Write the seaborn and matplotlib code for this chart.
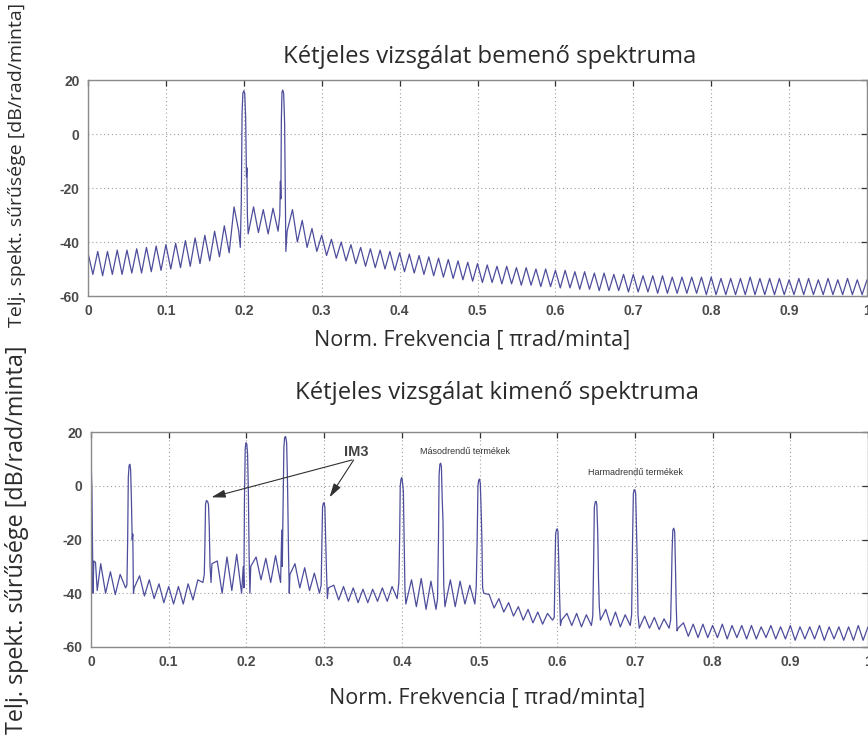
import numpy as np
import pandas as pd
import matplotlib
matplotlib.use("Agg")
import matplotlib.pyplot as plt
import seaborn as sns

# ---------------------------------------------------------------------------
# Spectrum data (dB/rad/sample).  The floor is described by its sidelobe
# maxima (at k*LOBE) and nulls (at (k+1/2)*LOBE); NaN marks grid points that
# are covered by a spectral line.  Spectral lines are given as explicit
# vertex lists.
# ---------------------------------------------------------------------------
LOBE = 0.0125

FREQ_TICKS = [0, 0.1, 0.2, 0.3, 0.4, 0.5, 0.6, 0.7, 0.8, 0.9, 1.0]
FREQ_TICK_LABELS = ["0", "0.1", "0.2", "0.3", "0.4", "0.5", "0.6", "0.7", "0.8", "0.9", "1"]
DB_TICKS = [-60, -40, -20, 0, 20]

# input spectrum: two tones at 0.2 and 0.25
IN_PEAK = [
    -44, -43.5, -43.5, -43, -43, -42.5, -42, -41.5, -41, -40.5,
    -39.5, -38.5, -37.5, -36, -34, -27, np.nan, -27, -28, -27.5,
    np.nan, -28, -32, -35, -37.5, -39, -40, -41, -42, -42.5,
    -43, -43.5, -44, -44.5, -45, -45.5, -46, -46.5, -47, -47.5,
    -48, -48.5, -49, -49, -49.5, -49.5, -50, -50, -50.5, -50.5,
    -51, -51, -51.5, -51.5, -52, -52, -52, -52.5, -52.5, -52.5,
    -53, -53, -53, -53, -53, -53.5, -53.5, -53.5, -53, -53.5,
    -53.5, -53.5, -54, -53.5, -53.5, -54, -53.5, -54, -53.5, -54, -54,
]
IN_NULL = [
    -52, -52.5, -52, -52, -51.5, -51.5, -51, -50.5, -50, -49.5,
    -49, -48, -47, -45.5, -44, np.nan, np.nan, -36.5, -37, np.nan,
    np.nan, -40, -42, -43.5, -45, -46, -47, -48, -49, -49.5,
    -50, -50.5, -51, -51.5, -52, -52.5, -53, -53.5, -54, -54.5,
    -55, -55, -55.5, -55.5, -56, -56, -56.5, -56.5, -57, -57,
    -57.5, -57.5, -58, -58, -58, -58.5, -58.5, -58.5, -59, -59,
    -59, -59, -59, -59.5, -59.5, -59.5, -59.5, -59.5, -59.5, -59.5,
    -59.5, -59.5, -59.5, -59.5, -59.5, -59.5, -59.5, -59.5, -59.5, -59.5,
]
IN_LINE_F = [
    0.1935, 0.1955, 0.1968, 0.1978, 0.1988, 0.2000, 0.2012, 0.2024, 0.2034, 0.2040, 0.2046, 0.2056,
    0.2440, 0.2462, 0.2470, 0.2476, 0.2482, 0.2490, 0.2500, 0.2512, 0.2524, 0.2532, 0.2540, 0.2556,
]
IN_LINE_DB = [
    -36, -42, -25, 8, 15, 16, 15, 6, -16, -12.5, -30, -37,
    -36, -30, -17.5, -24, 5, 15.5, 16.3, 15, 4, -20, -43.5, -36,
]

# output spectrum: tones, IM3, second and third order products
OUT_PEAK = [
    np.nan, -29, -32, -33, np.nan, -33.5, -35, -36.5, -37.5, -37.5,
    -36.5, -35, np.nan, -28, -26.5, -25.5, np.nan, -26.5, -27, -26,
    np.nan, -29, -30.5, -32.5, np.nan, -37, -37.5, -38, -38.5, -38.5,
    -38, -37.5, np.nan, -35, -34.5, -35.5, np.nan, -35, -35.5, -37,
    np.nan, -40.5, -42, -43.5, -45, -46, -47, -47.5, np.nan, -47.5,
    -47.5, -48, np.nan, -46, -47, -48, np.nan, -48.5, -49, -49.5,
    np.nan, -51, -51.5, -51.5, -52, -51.5, -52, -52, -52, -52.5,
    -52, -52.5, -52, -52.5, -52.5, -52, -52.5, -52.5, -52.5, -52, -52.5,
]
OUT_NULL = [
    np.nan, -40, -40.5, np.nan, np.nan, -41, -42, -43.5, -44, -44,
    -42.5, np.nan, np.nan, -40, -39, np.nan, np.nan, -35, -36, np.nan,
    np.nan, -38, -39, np.nan, np.nan, -42.5, -43, -43.5, -43.5, -43,
    -43, np.nan, np.nan, -45, -46, np.nan, np.nan, -45, -44, np.nan,
    np.nan, -45.5, -47, -48.5, -50, -51, -51.5, np.nan, np.nan, -52,
    -52.5, np.nan, np.nan, -52, -52.5, np.nan, np.nan, -53, -53.5, np.nan,
    np.nan, -56, -56.5, -56.5, -56.5, -57, -56.5, -57, -57, -56.5,
    -57, -57, -57.5, -57, -57, -57.5, -57, -57.5, -57.5, -57.5,
]
OUT_LINE_F = [
    0.0000, 0.0012, 0.0026, 0.0036, 0.0058, 0.0080,
    0.0445, 0.0462, 0.0472, 0.0480, 0.0490, 0.0500, 0.0510, 0.0520, 0.0530, 0.0538, 0.0546, 0.0556,
    0.1440, 0.1458, 0.1466, 0.1474, 0.1485, 0.1500, 0.1512, 0.1522, 0.1532, 0.1545, 0.1556,
    0.1938, 0.1960, 0.1968, 0.1975, 0.1985, 0.1995, 0.2005, 0.2015, 0.2025, 0.2035, 0.2045, 0.2056,
    0.2440, 0.2455, 0.2462, 0.2474, 0.2482, 0.2492, 0.2505, 0.2518, 0.2530, 0.2542, 0.2552, 0.2560,
    0.2940, 0.2962, 0.2972, 0.2980, 0.2990, 0.3000, 0.3010, 0.3020, 0.3030, 0.3042, 0.3055,
    0.3940, 0.3962, 0.3972, 0.3980, 0.3990, 0.4000, 0.4010, 0.4020, 0.4030, 0.4040, 0.4052,
    0.4440, 0.4460, 0.4472, 0.4480, 0.4490, 0.4500, 0.4510, 0.4520, 0.4530, 0.4540, 0.4555,
    0.4940, 0.4958, 0.4970, 0.4980, 0.4990, 0.5000, 0.5010, 0.5020, 0.5030, 0.5040, 0.5055,
    0.5940, 0.5962, 0.5972, 0.5980, 0.5990, 0.6000, 0.6010, 0.6020, 0.6030, 0.6042, 0.6056,
    0.6440, 0.6458, 0.6468, 0.6478, 0.6490, 0.6500, 0.6510, 0.6522, 0.6532, 0.6542, 0.6556,
    0.6940, 0.6958, 0.6970, 0.6980, 0.6990, 0.7000, 0.7010, 0.7020, 0.7030, 0.7040, 0.7056,
    0.7440, 0.7460, 0.7470, 0.7478, 0.7488, 0.7500, 0.7512, 0.7522, 0.7532, 0.7542, 0.7556,
]
OUT_LINE_DB = [
    11, -2, -40, -28, -28.5, -39,
    -38, -37, -20, 3, 7.5, 8, 6, -5, -20, -18, -40, -38,
    -36, -33, -22, -7, -5.5, -5.8, -7, -15, -30, -36, -29,
    -40, -30, -38, -5, 14, 16, 15.5, 12, -2, -26, -40, -30,
    -36, -16.5, -30, -5, 14, 18, 18.3, 16, 0, -25, -40, -33,
    -40, -37, -20, -8, -6.5, -6.3, -8, -20, -31, -42, -38,
    -42, -36, -20, 0, 2.5, 3, 1, -2, -20, -38, -44,
    -46, -42, -20, 4, 8, 8.4, 7, -5, -13, -37, -45,
    -44, -37.5, -20, 0, 2, 2.5, 1, -8, -19, -38, -40,
    -50, -49, -30, -18, -16.5, -16, -17, -29, -40, -52, -50,
    -52, -48.5, -30, -8, -6, -5.8, -7, -18, -35, -45, -50,
    -52, -48, -20, -3, -1.5, -1.5, -3, -15, -28, -48, -53,
    -53, -50, -37.5, -25, -16.5, -15.8, -17, -30, -45, -54, -53,
]

TITLES = ["Kétjeles vizsgálat bemenő spektruma", "Kétjeles vizsgálat kimenő spektruma"]
XLABEL = "Norm. Frekvencia [ πrad/minta]"
YLABEL = "Telj. spekt. sűrűsége [dB/rad/minta]"


def spectrum_frame(peaks, nulls, line_f, line_db):
    """Merge sidelobe floor and spectral-line vertices into one sorted trace."""
    peaks = np.asarray(peaks, float)
    nulls = np.asarray(nulls, float)
    f = np.concatenate([np.arange(len(peaks)) * LOBE,
                        (np.arange(len(nulls)) + 0.5) * LOBE,
                        np.asarray(line_f, float)])
    db = np.concatenate([peaks, nulls, np.asarray(line_db, float)])
    df = pd.DataFrame({"freq": f, "db": db}).dropna()
    return df.sort_values("freq").reset_index(drop=True)


sns.set_theme(style="white")
plt.rcParams["font.family"] = ["Open Sans", "DejaVu Sans"]
plt.rcParams["axes.unicode_minus"] = False

W, H = 868, 743
fig = plt.figure(figsize=(W / 100, H / 100), dpi=100)
fig.patch.set_facecolor("white")

axes_px = [(88, 80, 779, 216), (91, 432, 777, 215)]
frames = [spectrum_frame(IN_PEAK, IN_NULL, IN_LINE_F, IN_LINE_DB),
          spectrum_frame(OUT_PEAK, OUT_NULL, OUT_LINE_F, OUT_LINE_DB)]

LINE_COLOR = "#4d4d9c"
TEXT_COLOR = "#2b2b2b"
TICK_COLOR = "#4a4a4a"

axes = []
for (x0, y0, w, h), df in zip(axes_px, frames):
    ax = fig.add_axes([x0 / W, 1 - (y0 + h) / H, w / W, h / H])
    sns.lineplot(data=df, x="freq", y="db", ax=ax, sort=False, estimator=None,
                 color=LINE_COLOR, linewidth=0.9)
    ax.set_xlim(0, 1)
    ax.set_ylim(-60, 20)
    ax.set_xticks(FREQ_TICKS)
    ax.set_xticklabels(FREQ_TICK_LABELS)
    ax.set_yticks(DB_TICKS)
    ax.set_xlabel("")
    ax.set_ylabel("")
    ax.grid(True, color="#a0a0a0", linestyle=(0, (1, 2.5)), linewidth=0.8)
    ax.tick_params(direction="in", top=True, right=True, length=4, width=0.9,
                   color="#333333", labelcolor=TICK_COLOR, labelsize=10, pad=6)
    for lab in ax.get_xticklabels() + ax.get_yticklabels():
        lab.set_fontweight("bold")
        lab.set_family(["Liberation Sans", "DejaVu Sans"])
    for sp in ax.spines.values():
        sp.set_color("#8a8a8a")
        sp.set_linewidth(1.0)
    axes.append(ax)

# titles, axis labels
fig.text(490 / W, 1 - 57 / H, TITLES[0], ha="center", va="center", fontsize=17.2, color=TEXT_COLOR)
fig.text(497 / W, 1 - 393 / H, TITLES[1], ha="center", va="center", fontsize=17.2, color=TEXT_COLOR)
fig.text(472 / W, 1 - 340 / H, XLABEL, ha="center", va="center", fontsize=15.5, color=TEXT_COLOR)
fig.text(487 / W, 1 - 698 / H, XLABEL, ha="center", va="center", fontsize=15.5, color=TEXT_COLOR)
fig.text(17 / W, 1 - 165 / H, YLABEL, ha="center", va="center", rotation=90, fontsize=14, color=TEXT_COLOR)
fig.text(17 / W, 1 - 540 / H, YLABEL, ha="center", va="center", rotation=90, fontsize=16.8, color=TEXT_COLOR)

# annotations on the output spectrum
ax2 = axes[1]
ax2.text(0.342, 12.5, "IM3", ha="center", va="center", fontsize=10.5, fontweight="bold",
         color="#444444", family=["Liberation Sans", "DejaVu Sans"])
arrow = dict(arrowstyle="-|>,head_length=0.7,head_width=0.2", color="#303030", lw=0.8,
             shrinkA=0, shrinkB=0)
ax2.annotate("", xy=(0.155, -4.3), xytext=(0.336, 9.6), arrowprops=arrow)
ax2.annotate("", xy=(0.307, -4.3), xytext=(0.338, 9.6), arrowprops=arrow)
ax2.text(0.423, 12.6, "Másodrendű termékek", ha="left", va="center", fontsize=6.5,
         color="#333333", family=["Liberation Sans", "DejaVu Sans"])
ax2.text(0.640, 4.8, "Harmadrendű termékek", ha="left", va="center", fontsize=6.5,
         color="#333333", family=["Liberation Sans", "DejaVu Sans"])

fig.savefig("out.png", dpi=100, facecolor="white")
